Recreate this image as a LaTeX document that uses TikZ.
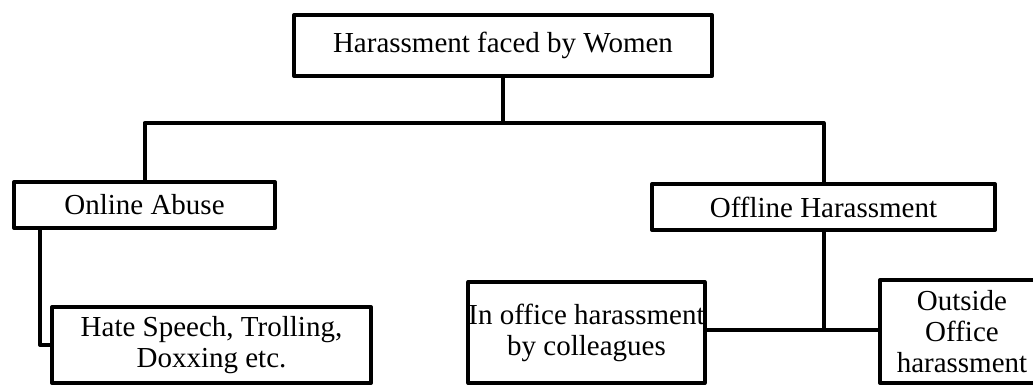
\documentclass[tikz,border=0pt]{standalone}
\usepackage{fontspec}
\setmainfont{Liberation Serif}
\usepackage{tikz}

\begin{document}
\begin{tikzpicture}[x=0.75pt,y=-0.75pt,line width=3pt,line join=round,
  every node/.style={font=\fontsize{21.75}{23.25}\selectfont},
  box/.style={draw,rectangle,align=center,inner sep=0pt,line width=3pt}]
  \useasboundingbox (0,0) rectangle (1033,385);
  \node[box,minimum width=313.5pt,minimum height=45.75pt] (women) at (503,45.5) {Harassment faced by Women};
  \node[box,minimum width=195.75pt,minimum height=34.5pt] (online) at (144.5,205) {Online Abuse};
  \node[box,minimum width=257.25pt,minimum height=34.5pt] (offline) at (823.5,207) {Offline Harassment};
  \node[box,minimum width=239.25pt,minimum height=57pt] (hate) at (211.5,345) {Hate Speech, Trolling,\\Doxxing etc.};
  \node[box,minimum width=174.75pt,minimum height=75.75pt] (inoffice) at (586.5,332.5) {In office harassment\\by colleagues};
  \node[box,minimum width=123pt,minimum height=77.25pt] (outside) at (962,331.5) {Outside\\Office\\harassment};
  \coordinate (split) at (503,123);
  \coordinate (join) at (825,330);
  \draw (women.south) -- (split);
  \draw (online.north) |- (split) -| (offline.north);
  \draw ([xshift=-78.4pt]online.south) |- (hate.west);
  \draw (offline.south) -- (offline.south |- join);
  \draw[line width=2.4pt] (inoffice.east |- join) -- (outside.west |- join);
\end{tikzpicture}
\end{document}
